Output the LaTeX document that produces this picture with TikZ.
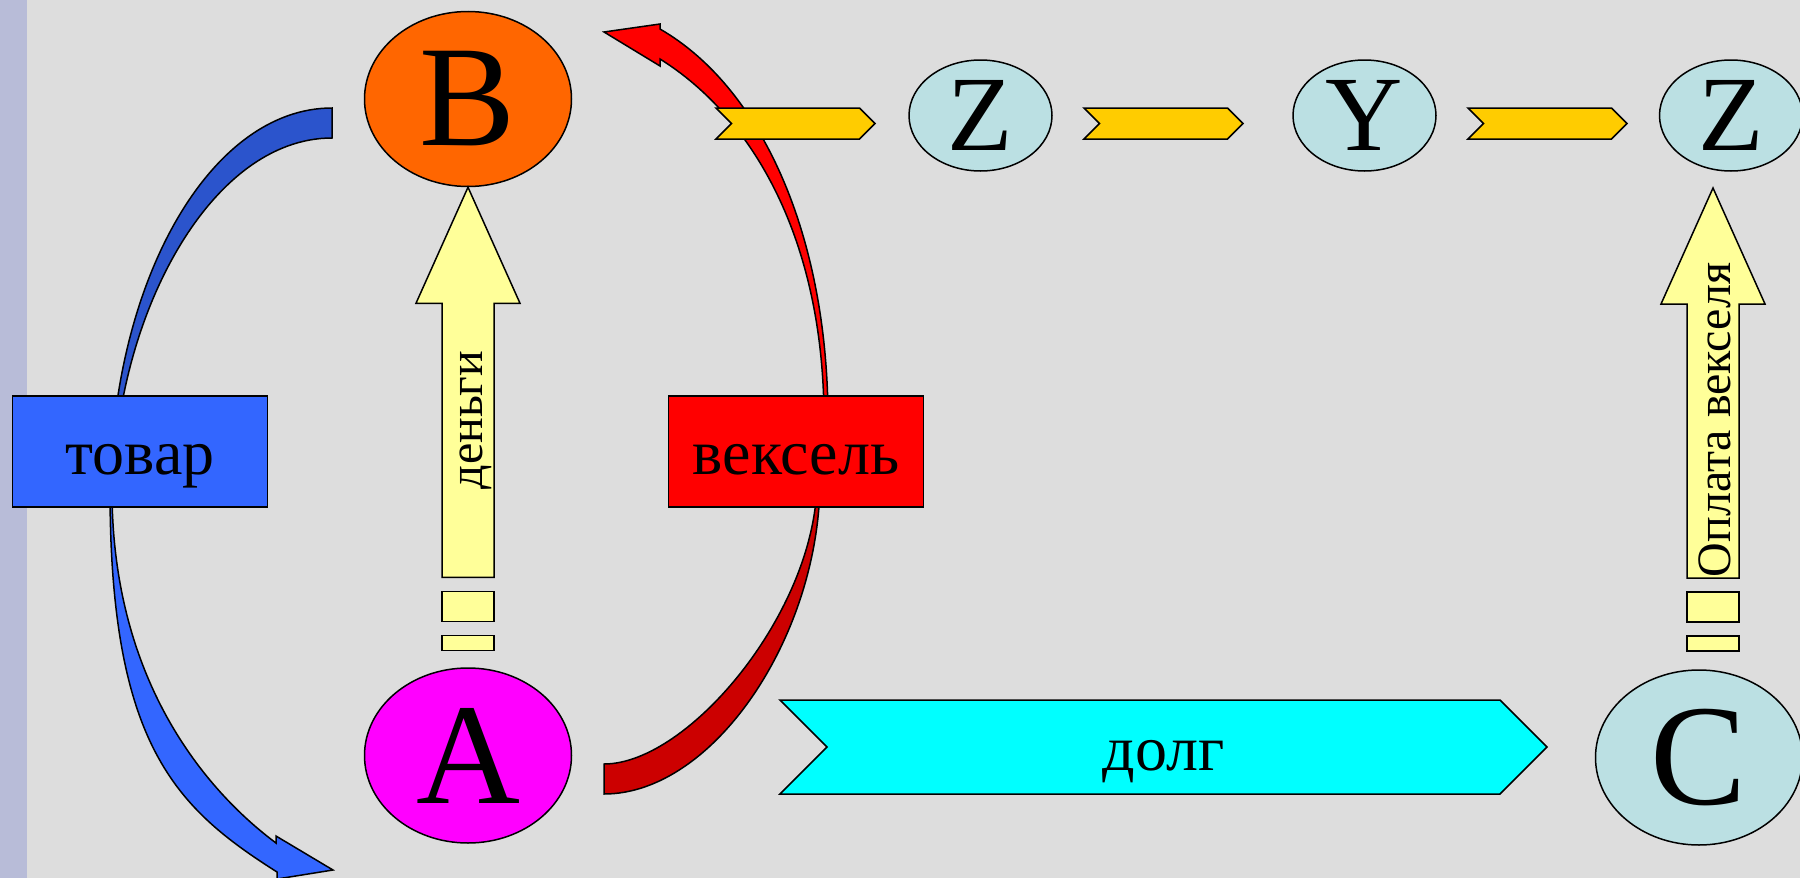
\documentclass[tikz,border=0pt]{standalone}
\usepackage{fontspec}
\setmainfont{Liberation Serif}
\usepackage{tikz}
\usetikzlibrary{shapes.geometric, shapes.symbols, positioning}
\usepackage{xcolor}
\definecolor{bggray}{HTML}{DDDDDD}
\definecolor{sidebar}{HTML}{B8BCD8}
\definecolor{goodsblue}{HTML}{3366FF}
\definecolor{goodsdark}{HTML}{2B54CC}
\definecolor{billred}{HTML}{FF0000}
\definecolor{billdark}{HTML}{CC0000}
\definecolor{borange}{HTML}{FF6600}
\definecolor{amagenta}{HTML}{FF00FF}
\definecolor{ltblue}{HTML}{BBE0E3}
\definecolor{gold}{HTML}{FFCC00}
\definecolor{paleyellow}{HTML}{FFFF99}
\definecolor{debtcyan}{HTML}{00FFFF}

\begin{document}
\begin{tikzpicture}
[x = 1pt, y = -1pt, line width = 1.5pt,
 bigoval/.style = {ellipse, draw=black, inner sep=0pt, minimum width=207pt, minimum height=175pt, font=\fontsize{144}{144}\selectfont},
 smalloval/.style = {ellipse, draw=black, fill=ltblue, inner sep=0pt, minimum width=143pt, minimum height=111pt, font=\fontsize{107}{107}\selectfont},
 labelbox/.style = {rectangle, draw=black, inner sep=0pt, minimum width=255pt, minimum height=111pt, font=\fontsize{64}{64}\selectfont, text height=50pt, text depth=4pt},
 chevron/.style = {signal, signal from=west, signal to=east, draw=black, fill=gold, inner sep=0pt, minimum width=159pt, minimum height=31pt},
 debtarrow/.style = {signal, signal from=west, signal to=east, draw=black, fill=debtcyan, inner sep=0pt, minimum width=767pt, minimum height=94pt, font=\fontsize{64}{64}\selectfont, text height=50pt, text depth=4pt},
 yarrow/.style = {draw=black, fill=paleyellow},
 sidetext/.style = {rotate=90, anchor=base, font=\fontsize{48}{48}\selectfont}]
\useasboundingbox (0,0) rectangle (1800,878);
\fill[bggray] (0,0) rectangle (1800,878);
\fill[sidebar] (0,0) rectangle (27,878);

\filldraw[fill=goodsdark] (332,108) .. controls (209,108) and (110,284) .. (110,500) -- (113,500) .. controls (113,320) and (209,138) .. (332,138) -- cycle;
\filldraw[fill=goodsblue] (110,490) .. controls (110,745) and (176,808) .. (277,872) -- (277,879) -- (333,870) -- (276,836) -- (276,843) .. controls (205,790) and (112,680) .. (112,490) -- cycle;
\filldraw[fill=billred] (604,32) -- (660,24) -- (660,29) .. controls (764,89) and (828,240) .. (828,420) -- (824,420) .. controls (824,240) and (753,117) .. (660,59) -- (660,66) -- cycle;
\filldraw[fill=billdark] (820,480) .. controls (820,635) and (714,794) .. (604,794) -- (604,764) .. controls (689,764) and (817,610) .. (817,480) -- cycle;

\node[labelbox, fill=goodsblue] (goods) at (140,451.5) {товар};
\node[labelbox, fill=billred] (bill) at (796,451.5) {вексель};

\node[bigoval, fill=borange] (B) at (468,99) {B};
\node[bigoval, fill=amagenta] (A) at (468,755.5) {A};
\node[bigoval, fill=ltblue] (C) at (1699,757.5) {C};
\node[smalloval] (Z1) at (980.5,115.5) {Z};
\node[smalloval] (Y) at (1364.5,115.5) {Y};
\node[smalloval] (Z2) at (1731,115.5) {Z};

\node[chevron] (ch1) at (795.5,123.5) {};
\node[chevron] (ch2) at (1163.5,123.5) {};
\node[chevron] (ch3) at (1547.5,123.5) {};

\coordinate (payTip) at (1713,188);
\foreach \tip in {B.south, payTip} {
  \draw[yarrow] (\tip) -- ++(52,116) -- ++(-26,0) -- ++(0,274) -- ++(-52,0) -- ++(0,-274) -- ++(-26,0) -- cycle;
  \draw[yarrow] ([shift={(-26,404)}]\tip) rectangle ++(52,30);
  \draw[yarrow] ([shift={(-26,448)}]\tip) rectangle ++(52,15);
}
\node[sidetext] (money) at (482,420) {деньги};
\node[sidetext] (paytext) at (1730,420) {Оплата векселя};

\node[debtarrow] (debt) at (1163.5,747) {долг};

\end{tikzpicture}
\end{document}
